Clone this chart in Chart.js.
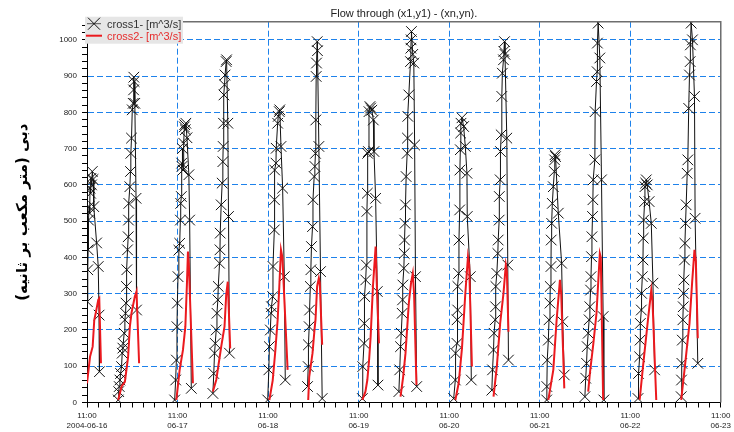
<!DOCTYPE html>
<html>
<head>
<meta charset="utf-8">
<script src="https://cdn.jsdelivr.net/npm/chart.js@4.4.1/dist/chart.umd.min.js"></script>
<style>
  html, body { margin: 0; padding: 0; background: #fff; }
  #wrap { width: 734px; height: 432px; position: relative; }
</style>
</head>
<body>
<div id="wrap"><canvas id="chart"></canvas></div>
<script>
// hours after 2004-06-16 11:00, flow in m^3/s ; [h, null] breaks the line between tides
const cross1 = [
  [0.1,278],[0.2,366],[0.3,421],[0.4,503],[0.55,540],[0.7,522],[0.8,591],[0.95,577],[1.05,618],[1.2,600],[1.4,637],[1.6,615],[1.8,540],[2.55,440],[2.98,375],[3.2,241],[3.3,85], [5,null],
  [8.27,7],[8.4,30],[8.55,44],[8.72,62],[8.9,80],[9.16,99],[9.33,136],[9.5,150],[9.6,163],[9.86,191],[10.04,228],[10.21,246],[10.35,274],[10.45,320],[10.55,366],[10.74,421],[10.92,457],[11.0,503],[11.09,549],[11.36,595],[11.53,637],[11.62,687],[11.8,729],[12.0,807],[12.24,825],[12.35,862],[12.41,897],[12.5,885],[12.68,825],[13.0,563],[13.13,255], [18,null],
  [23.24,7],[23.5,62],[23.69,117],[23.85,209],[23.95,274],[24.13,347],[24.35,420],[24.57,439],[24.75,503],[24.84,549],[25.01,568],[25.1,660],[25.19,651],[25.3,700],[25.45,641],[25.63,715],[25.8,760],[25.89,766],[26.06,752],[26.2,770],[26.5,730],[27.0,628],[27.21,503],[27.65,39], [30,null],
  [33.37,25],[33.6,80],[33.81,136],[34.0,163],[34.25,200],[34.45,246],[34.69,283],[34.8,320],[35.13,384],[35.25,421],[35.31,467],[35.57,545],[35.83,605],[36.01,664],[36.1,706],[36.19,770],[36.3,848],[36.45,876],[36.6,903],[36.89,940],[37.0,945],[37.33,770],[37.51,513],[37.77,136], [42,null],
  [47.9,7],[48.2,90],[48.34,154],[48.6,200],[48.78,246],[48.9,264],[49.22,292],[49.3,375],[49.66,476],[49.7,559],[49.75,641],[50.1,660],[50.15,701],[50.54,770],[50.7,789],[50.98,802],[51.1,807],[51.42,706],[51.86,591],[52.3,347],[52.56,62], [55,null],
  [58.46,44],[58.64,99],[58.7,159],[58.9,209],[59.0,255],[59.2,320],[59.34,366],[59.5,430],[59.78,485],[59.9,559],[60.22,623],[60.4,651],[60.57,687],[60.65,779],[60.75,899],[60.84,936],[61.02,995],[61.1,970],[61.46,706],[61.9,361],[62.34,11], [67,null],
  [72.99,11],[73.1,99],[73.43,163],[73.5,218],[73.61,292],[73.87,338],[74.05,379],[74.2,527],[74.31,577],[74.4,687],[74.6,692],[74.75,802],[75.0,816],[75.19,812],[75.5,806],[75.9,779],[76.07,692],[76.51,563],[76.95,306],[77.13,48], [80,null],
  [82.67,30],[82.9,90],[83.11,154],[83.3,191],[83.55,246],[83.65,283],[83.73,324],[83.99,370],[84.1,411],[84.17,448],[84.3,494],[84.43,545],[84.6,623],[84.87,687],[84.95,729],[85.05,789],[85.31,848],[85.75,940],[85.85,977],[85.92,1000],[86.0,1023],[86.36,960],[86.63,936],[86.85,710],[87.07,347],[87.4,44], [92,null],
  [97.2,11],[97.64,62],[97.7,136],[98.08,163],[98.1,228],[98.26,255],[98.3,320],[98.52,356],[98.6,448],[98.79,531],[98.85,641],[98.96,697],[99.05,743],[99.14,770],[99.4,785],[99.84,761],[100.28,706],[100.72,632],[100.8,513],[101.6,347],[101.87,62], [104,null],
  [107.32,34],[107.5,90],[107.76,145],[107.9,191],[108.2,228],[108.3,264],[108.38,320],[108.64,356],[108.9,411],[109.0,448],[109.26,503],[109.3,568],[109.52,614],[109.6,692],[109.79,738],[109.96,844],[110.1,908],[110.4,945],[110.5,968],[110.67,995],[110.8,960],[111.28,729],[111.54,379],[111.72,117], [116,null],
  [121.85,7],[121.9,44],[122.0,117],[122.29,172],[122.47,228],[122.73,274],[122.8,320],[122.99,375],[123.05,448],[123.17,494],[123.35,549],[123.61,595],[123.88,637],[123.95,669],[124.05,683],[124.2,678],[124.93,522],[125.81,384],[126.1,223],[126.52,76], [129,null],
  [131.98,16],[132.2,67],[132.42,108],[132.6,154],[132.86,191],[133.1,228],[133.3,264],[133.48,310],[133.6,347],[133.74,402],[133.85,457],[134.0,513],[134.1,559],[134.18,614],[134.62,669],[134.7,802],[135.06,885],[135.24,912],[135.3,991],[135.5,1046],[135.94,950],[136.38,614],[136.82,237],[137.0,7], [141,null],
  [146.06,11],[146.2,80],[146.5,126],[146.6,172],[146.68,218],[146.94,255],[147.0,301],[147.2,347],[147.38,393],[147.45,453],[147.56,503],[147.82,554],[147.9,595],[148.1,605],[148.26,614],[148.5,600],[149.0,554],[149.58,494],[150.02,329],[150.46,90], [154,null],
  [157.51,16],[157.6,62],[157.69,108],[157.8,172],[157.95,228],[158.05,264],[158.13,301],[158.25,338],[158.39,393],[158.5,439],[158.66,494],[158.83,545],[159.1,632],[159.27,669],[159.5,811],[159.71,903],[159.89,940],[159.95,986],[160.15,1046],[160.5,1000],[161.03,844],[161.2,508],[161.91,108]
];

const cross2 = [
  [0,53],[0.8,126],[1.5,154],[1.93,228],[2.38,250],[2.98,283],[3.25,287],[3.7,108], [5,null],
  [8.27,7],[9.17,44],[10.04,57],[10.9,126],[11.36,209],[11.8,247],[12.68,292],[13.13,306],[13.81,108], [18,null],
  [23.69,7],[24.56,90],[25.44,145],[26.07,209],[26.5,330],[26.76,416],[27.0,380],[28.08,53], [30,null],
  [33.36,30],[34.26,62],[35.58,154],[36.45,209],[36.9,297],[37.32,333],[37.96,149], [42,null],
  [48.34,7],[49.22,60],[49.9,140],[50.54,228],[50.98,320],[51.42,421],[51.8,400],[53.18,90], [55,null],
  [58.64,7],[58.9,71],[59.78,136],[60.3,200],[60.57,228],[61.0,320],[61.46,343],[61.7,330],[62.34,159], [67,null],
  [72.99,7],[73.8,30],[74.31,62],[74.8,120],[75.19,182],[75.8,320],[76.51,430],[76.8,330],[77.39,163], [80,null],
  [83.11,16],[83.8,70],[84.43,136],[85.31,274],[85.9,330],[86.36,356],[86.7,300],[87.33,48], [92,null],
  [97.64,7],[98.52,53],[99.4,150],[100.28,300],[100.99,402],[101.3,380],[102.04,99], [104,null],
  [107.76,16],[108.64,99],[109.52,218],[110.4,301],[111.02,379],[111.3,360],[111.72,195], [116,null],
  [122.29,7],[123.61,90],[124.49,228],[125.37,338],[125.7,300],[126.52,39], [129,null],
  [132.86,30],[133.3,80],[134.2,160],[135.06,246],[135.94,411],[136.2,400],[136.82,7], [141,null],
  [146.5,7],[147.38,99],[148.7,228],[149.58,310],[149.9,280],[150.9,7], [154,null],
  [157.51,7],[158.39,90],[159.71,218],[160.4,330],[161.03,421],[161.4,390],[161.91,177]
];

const dayLabels = ['2004-06-16', '06-17', '06-18', '06-19', '06-20', '06-21', '06-22', '06-23'];
const timeLabel = '11:00';
const seriesNames = ['cross1- [m^3/s]', 'cross2- [m^3/s]'];
const chartTitle = 'Flow through (x1,y1) - (xn,yn).';
const yTitle = 'دبی (متر مکعب بر ثانیه)';

const xTicks = [];
for (let h = 0; h <= 168; h += 3) xTicks.push(h);
const yTicks = [];
for (let v = 0; v <= 1040; v += 20) yTicks.push(v);

const gridBlue = 'rgb(30,130,235)';
const redLine = 'rgb(235,25,30)';
const font = 'Arial, "Liberation Sans", sans-serif';

const toPoints = arr => arr.map(p => ({ x: p[0], y: p[1] }));

// frame, legend box and the rotated persian axis title
const decorations = {
  id: 'decorations',
  afterDraw(chart) {
    const { ctx, chartArea: a } = chart;
    ctx.save();
    ctx.strokeStyle = '#6e6e6e';
    ctx.lineWidth = 1.5;
    ctx.beginPath();
    ctx.moveTo(a.left, a.top);
    ctx.lineTo(a.right, a.top);
    ctx.lineTo(a.right, a.bottom);
    ctx.stroke();

    // legend
    const lx = a.left - 2, ly = a.top - 5;
    ctx.fillStyle = '#e6e6e6';
    ctx.fillRect(lx, ly, 98, 27);
    ctx.strokeStyle = '#555';
    ctx.lineWidth = 1;
    ctx.beginPath();
    ctx.moveTo(lx + 2, ly + 7);
    ctx.lineTo(lx + 16, ly + 7);
    ctx.stroke();
    ctx.strokeStyle = '#111';
    ctx.beginPath();
    ctx.moveTo(lx + 3, ly + 1); ctx.lineTo(lx + 15, ly + 13);
    ctx.moveTo(lx + 15, ly + 1); ctx.lineTo(lx + 3, ly + 13);
    ctx.stroke();
    ctx.strokeStyle = redLine;
    ctx.lineWidth = 2;
    ctx.beginPath();
    ctx.moveTo(lx + 1, ly + 19);
    ctx.lineTo(lx + 17, ly + 19);
    ctx.stroke();
    ctx.font = '11px ' + font;
    ctx.textBaseline = 'middle';
    ctx.textAlign = 'left';
    ctx.fillStyle = '#333';
    ctx.fillText(seriesNames[0], lx + 22, ly + 8.5);
    ctx.fillStyle = 'rgb(230,45,45)';
    ctx.fillText(seriesNames[1], lx + 22, ly + 20.5);

    // y title
    ctx.translate(23, (a.top + a.bottom) / 2);
    ctx.rotate(-Math.PI / 2);
    ctx.direction = 'rtl';
    ctx.textAlign = 'center';
    ctx.fillStyle = '#000';
    ctx.font = 'bold 15px "DejaVu Sans", sans-serif';
    ctx.fillText(yTitle, 0, 0);
    ctx.restore();
  }
};

new Chart(document.getElementById('chart'), {
  type: 'line',
  data: {
    datasets: [
      {
        label: seriesNames[1],
        data: toPoints(cross2),
        borderColor: redLine,
        borderWidth: 2,
        pointRadius: 0,
        spanGaps: false,
        order: 0
      },
      {
        label: seriesNames[0],
        data: toPoints(cross1),
        borderColor: '#111',
        borderWidth: 1,
        pointStyle: 'crossRot',
        pointRadius: 7.5,
        pointBorderColor: '#111',
        pointBorderWidth: 1,
        spanGaps: false,
        order: 1
      }
    ]
  },
  options: {
    responsive: true,
    maintainAspectRatio: false,
    animation: false,
    layout: { padding: { left: 0, right: 11, top: 0, bottom: 0 } },
    plugins: {
      legend: { display: false },
      tooltip: { enabled: false },
      title: {
        display: true,
        text: chartTitle,
        fullSize: false,
        color: '#222',
        font: { family: font, size: 11, weight: 'normal' },
        padding: { top: 7, bottom: 1.5 }
      }
    },
    scales: {
      x: {
        type: 'linear',
        min: 0,
        max: 168,
        afterBuildTicks: s => { s.ticks = xTicks.map(v => ({ value: v })); },
        afterFit: s => { s.height = 29.5; },
        ticks: {
          autoSkip: false,
          maxRotation: 0,
          padding: 3,
          color: '#222',
          font: { family: font, size: 8, lineHeight: 1.25 },
          callback: v => (v % 24 === 0 ? [timeLabel, dayLabels[v / 24]] : '')
        },
        grid: {
          color: c => (c.tick && c.tick.value % 24 === 0 ? gridBlue : 'transparent'),
          tickColor: '#000',
          tickLength: 5,
          tickBorderDash: []
        },
        border: { color: '#000', width: 1, dash: [6, 3] }
      },
      y: {
        min: 0,
        max: 1050,
        afterBuildTicks: s => { s.ticks = yTicks.map(v => ({ value: v })); },
        afterFit: s => { s.width = 87; },
        ticks: {
          autoSkip: false,
          padding: 5,
          color: '#222',
          font: { family: font, size: 8 },
          callback: v => (v % 100 === 0 ? String(v) : '')
        },
        grid: {
          color: c => (c.tick && c.tick.value % 100 === 0 ? gridBlue : 'transparent'),
          tickColor: '#000',
          tickLength: 5,
          tickBorderDash: []
        },
        border: { color: '#000', width: 1, dash: [6, 3] }
      }
    }
  },
  plugins: [decorations]
});
</script>
</body>
</html>
